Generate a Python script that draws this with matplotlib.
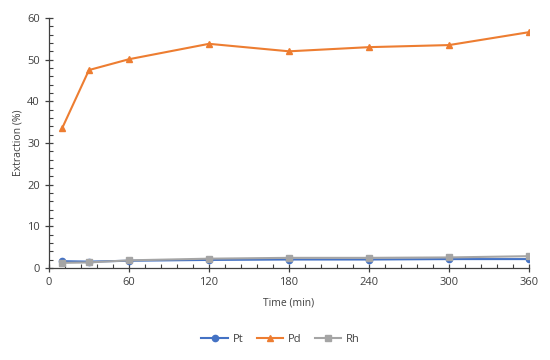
import matplotlib.pyplot as plt
from matplotlib.ticker import MultipleLocator

# data
time_min = [10, 30, 60, 120, 180, 240, 300, 360]
pt = [1.6, 1.5, 1.7, 1.9, 2.0, 2.0, 2.1, 2.1]
pd_vals = [33.6, 47.5, 50.1, 53.8, 52.0, 53.0, 53.5, 56.6]
rh = [1.2, 1.3, 1.8, 2.2, 2.4, 2.4, 2.5, 2.8]

plt.rcParams['font.family'] = ['Open Sans', 'DejaVu Sans']

fig = plt.figure(figsize=(5.5, 3.6), dpi=100)
ax = fig.add_axes([0.089, 0.256, 0.873, 0.694])

ax.plot(time_min, pt, color='#4472C4', marker='o', markersize=4.5, linewidth=1.5, label='Pt')
ax.plot(time_min, pd_vals, color='#ED7D31', marker='^', markersize=5, linewidth=1.5, label='Pd')
ax.plot(time_min, rh, color='#A5A5A5', marker='s', markersize=4.5, linewidth=1.5, label='Rh')

ax.set_xlim(0, 360)
ax.set_ylim(0, 60)
ax.xaxis.set_major_locator(MultipleLocator(60))
ax.xaxis.set_minor_locator(MultipleLocator(12))
ax.yaxis.set_major_locator(MultipleLocator(10))
ax.yaxis.set_minor_locator(MultipleLocator(2))

for side in ['top', 'right']:
    ax.spines[side].set_visible(False)
for side in ['left', 'bottom']:
    ax.spines[side].set_color('#404040')
    ax.spines[side].set_linewidth(0.9)

ax.tick_params(which='major', direction='inout', length=6, width=0.9, color='#404040',
               labelsize=8, labelcolor='#404040')
ax.tick_params(which='minor', direction='in', length=3, width=0.8, color='#404040')

ax.set_xlabel('Time (min)', fontsize=7.5, color='#404040', labelpad=7)
ax.set_ylabel('Extraction (%)', fontsize=7.5, color='#404040', labelpad=3)

fig.legend(loc='center', bbox_to_anchor=(0.51, 0.058), ncol=3, frameon=False,
           fontsize=8, handlelength=2.4, columnspacing=1.2, handletextpad=0.4,
           labelcolor='#404040')

fig.savefig('out.png', dpi=100)
